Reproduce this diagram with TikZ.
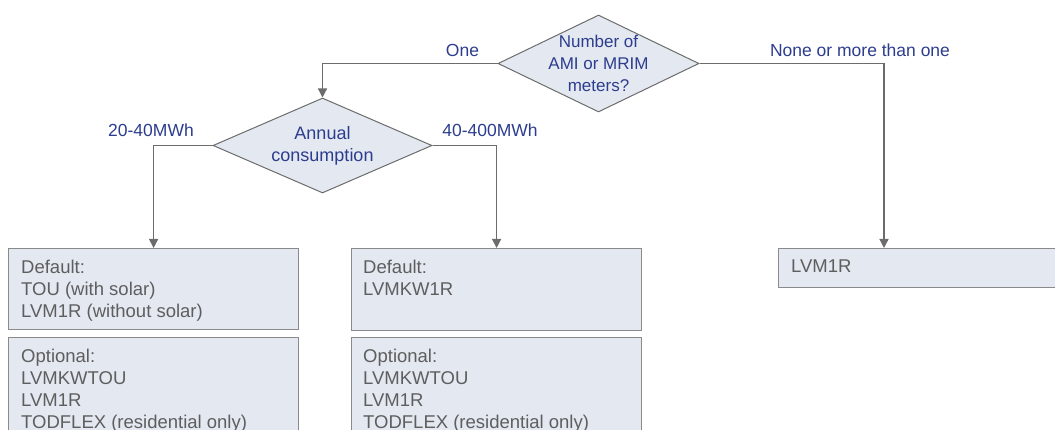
\documentclass[tikz,border=0pt]{standalone}
\usepackage{fontspec}
\setmainfont{Liberation Sans}
\usetikzlibrary{shapes.geometric,positioning,arrows.meta}
\definecolor{lblue}{HTML}{2D3D8E}
\definecolor{boxfill}{HTML}{E3E8F1}
\definecolor{boxtext}{HTML}{5E5E5E}
\definecolor{edgegray}{HTML}{6C6C6C}
\definecolor{rimgray}{HTML}{8A8A8A}

\begin{document}
\begin{tikzpicture}[x=1pt,y=-1pt,>={Triangle[length=9pt,width=9pt]},
      decision/.style={diamond,draw=edgegray,fill=boxfill,line width=1pt,inner sep=0pt},
      qtext/.style={align=center,text=lblue,inner sep=0pt,font=\fontsize{17pt}{22pt}\selectfont},
      tariff/.style={rectangle,draw=rimgray,fill=boxfill,line width=1.2pt,inner sep=0pt,anchor=north west},
      tlist/.style={align=left,text=boxtext,inner sep=0pt,anchor=north west,font=\fontsize{18.5pt}{22pt}\selectfont},
      cond/.style={text=lblue,inner sep=0pt,font=\fontsize{17.5pt}{20pt}\selectfont},
      flow/.style={->,draw=edgegray,line width=1.3pt}]
			\useasboundingbox (0,0) rectangle (1055,430);
			\clip (0,0) rectangle (1055,430);
			% decisions
			\node[decision,minimum width=201pt,minimum height=97pt] (meters) at (598.5,63.5) {};
			\node[qtext] (meterstext) at (meters) {Number of\\AMI or MRIM\\meters?};
			\node[decision,minimum width=219pt,minimum height=95pt] (annual) at (322.5,145.5) {};
			\node[qtext,font=\fontsize{18pt}{22pt}\selectfont] (annualtext) at (annual) {Annual\\consumption};
			% tariff boxes
			\node[tariff,minimum width=290pt,minimum height=81pt] (defA) at (8,248) {};
			\node[tariff,minimum width=290pt,minimum height=110pt] (optA) at (8,337) {};
			\node[tariff,minimum width=290pt,minimum height=82pt] (defB) at (351,248) {};
			\node[tariff,minimum width=290pt,minimum height=110pt] (optB) at (351,337) {};
			\node[tariff,minimum width=300pt,minimum height=39pt] (none) at (778,248) {};
			\node[tlist] (defAtext) at ([xshift=13pt,yshift=-11.5pt]defA.north west) {Default:\\TOU (with solar)\\LVM1R (without solar)};
			\node[tlist] (optAtext) at ([xshift=13pt,yshift=-11.5pt]optA.north west) {Optional:\\LVMKWTOU\\LVM1R\\TODFLEX (residential only)};
			\node[tlist] (defBtext) at ([xshift=12pt,yshift=-11.5pt]defB.north west) {Default:\\LVMKW1R};
			\node[tlist] (optBtext) at ([xshift=12pt,yshift=-11.5pt]optB.north west) {Optional:\\LVMKWTOU\\LVM1R\\TODFLEX (residential only)};
			\node[tlist] (nonetext) at ([xshift=13pt,yshift=-11.5pt]none.north west) {LVM1R};
			% branch labels
			\node[cond] (one) at (462.5,50) {One};
			\node[cond] (many) at (860,50) {None or more than one};
			\node[cond] (low) at (151,130) {20-40MWh};
			\node[cond] (high) at (490,130) {40-400MWh};
			\draw[flow] (meters.west) -| (annual.north);
			\draw[flow] (meters.east) -| ([xshift=106pt]none.north west);
			\draw[flow] (annual.west) -| (defA.north);
			\draw[flow] (annual.east) -| (defB.north);
\end{tikzpicture}
\end{document}
